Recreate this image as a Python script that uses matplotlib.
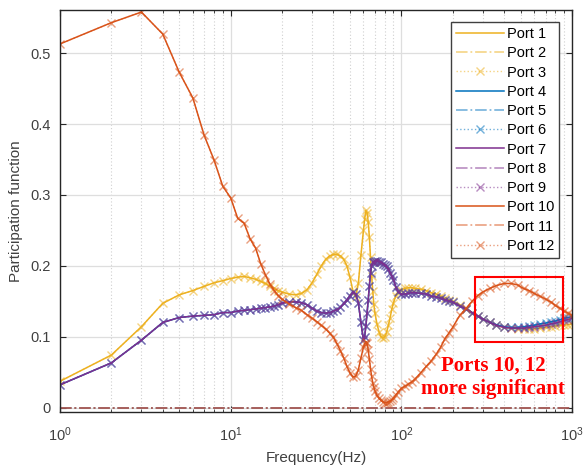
import matplotlib.pyplot as plt
from matplotlib.patches import Rectangle

# frequency points (Hz)
freq = [1, 2, 3, 4, 5, 6, 7, 8, 9, 10, 11, 12, 13, 14, 15, 16, 17, 18, 19, 20,
        22, 24, 26, 28, 30, 32, 34, 36, 38, 40, 42, 44, 46, 48, 50, 52, 54, 56, 58, 60,
        61, 62, 63, 64, 65, 66, 67, 68, 69, 70,
        72, 74, 76, 78, 80, 82, 84, 86, 88, 90,
        93, 96, 100, 105, 110, 115, 120,
        130, 140, 150, 160, 170, 180, 190, 200,
        220, 240, 260, 280, 300,
        330, 360, 400, 440, 480, 520, 560, 600,
        650, 700, 750, 800, 850, 900, 950, 1000]

# ports 1 and 3
pf_yellow = [0.037, 0.074, 0.114, 0.147, 0.159, 0.165, 0.171, 0.176, 0.179, 0.182,
             0.184, 0.185, 0.183, 0.181, 0.178, 0.175, 0.171, 0.168, 0.165, 0.163,
             0.160, 0.159, 0.161, 0.166, 0.176, 0.188, 0.200, 0.209, 0.214, 0.216,
             0.216, 0.214, 0.209, 0.200, 0.184, 0.165, 0.156, 0.175, 0.215, 0.250,
             0.266, 0.278, 0.275, 0.262, 0.240, 0.212, 0.186, 0.165, 0.146, 0.134,
             0.118, 0.107, 0.100, 0.098, 0.100, 0.106, 0.116, 0.127, 0.139, 0.148,
             0.158, 0.164, 0.166, 0.168, 0.169, 0.169, 0.168,
             0.167, 0.165, 0.162, 0.160, 0.157, 0.154, 0.152, 0.150,
             0.145, 0.139, 0.134, 0.129, 0.125,
             0.120, 0.116, 0.113, 0.112, 0.111, 0.111, 0.111, 0.111,
             0.112, 0.113, 0.114, 0.115, 0.116, 0.116, 0.117, 0.118]

# ports 4 and 6
pf_blue = [0.032, 0.063, 0.095, 0.120, 0.127, 0.129, 0.130, 0.131, 0.134, 0.134,
           0.136, 0.137, 0.138, 0.139, 0.140, 0.141, 0.142, 0.143, 0.145, 0.147,
           0.149, 0.149, 0.148, 0.145, 0.140, 0.136, 0.134, 0.133, 0.134, 0.136,
           0.138, 0.142, 0.147, 0.152, 0.158, 0.163, 0.160, 0.148, 0.120, 0.095,
           0.100, 0.115, 0.133, 0.152, 0.172, 0.190, 0.200, 0.205, 0.206, 0.207,
           0.207, 0.206, 0.205, 0.203, 0.201, 0.199, 0.195, 0.190, 0.185, 0.180,
           0.170, 0.163, 0.160, 0.160, 0.161, 0.162, 0.162,
           0.161, 0.160, 0.157, 0.156, 0.154, 0.152, 0.150, 0.149,
           0.143, 0.139, 0.134, 0.129, 0.125,
           0.120, 0.117, 0.114, 0.113, 0.113, 0.114, 0.115, 0.116,
           0.118, 0.119, 0.121, 0.122, 0.124, 0.126, 0.127, 0.128]

# ports 7 and 9
pf_purple = [0.032, 0.063, 0.095, 0.120, 0.127, 0.129, 0.130, 0.131, 0.134, 0.134,
             0.136, 0.137, 0.138, 0.139, 0.140, 0.141, 0.142, 0.143, 0.145, 0.147,
             0.149, 0.149, 0.148, 0.145, 0.140, 0.136, 0.134, 0.133, 0.134, 0.136,
             0.138, 0.142, 0.147, 0.152, 0.158, 0.163, 0.160, 0.148, 0.120, 0.095,
             0.100, 0.115, 0.133, 0.152, 0.172, 0.190, 0.200, 0.205, 0.206, 0.207,
             0.207, 0.206, 0.205, 0.203, 0.201, 0.199, 0.195, 0.190, 0.185, 0.180,
             0.170, 0.163, 0.160, 0.160, 0.161, 0.162, 0.162,
             0.161, 0.160, 0.157, 0.156, 0.154, 0.152, 0.150, 0.149,
             0.143, 0.139, 0.134, 0.129, 0.125,
             0.120, 0.116, 0.113, 0.112, 0.112, 0.112, 0.113, 0.114,
             0.115, 0.116, 0.118, 0.119, 0.121, 0.123, 0.124, 0.126]

# ports 10 and 12
pf_orange = [0.513, 0.543, 0.558, 0.527, 0.473, 0.437, 0.384, 0.349, 0.312, 0.296,
             0.267, 0.260, 0.238, 0.225, 0.203, 0.187, 0.174, 0.165, 0.158, 0.153,
             0.146, 0.141, 0.137, 0.131, 0.126, 0.121, 0.116, 0.111, 0.105, 0.099,
             0.090, 0.080, 0.070, 0.058, 0.049, 0.043, 0.044, 0.053, 0.070, 0.085,
             0.090, 0.093, 0.091, 0.081, 0.068, 0.055, 0.044, 0.035, 0.029, 0.024,
             0.017, 0.013, 0.010, 0.008, 0.007, 0.007, 0.008, 0.009, 0.011, 0.014,
             0.018, 0.022, 0.027, 0.030, 0.033, 0.036, 0.040,
             0.049, 0.058, 0.066, 0.075, 0.085, 0.097, 0.105, 0.113,
             0.130, 0.140, 0.150, 0.158, 0.163,
             0.168, 0.172, 0.175, 0.175, 0.173, 0.168, 0.165, 0.161,
             0.157, 0.153, 0.149, 0.144, 0.140, 0.136, 0.133, 0.130]

# ports 2, 5, 8, 11 stay at zero
pf_zero = [0.0] * len(freq)

colors = ['#EDB120', '#0072BD', '#7E2F8E', '#D95319']
groups = [pf_yellow, pf_blue, pf_purple, pf_orange]

plt.rcParams['font.family'] = ['Liberation Sans', 'DejaVu Sans']

fig = plt.figure(figsize=(5.84, 4.73), dpi=100)
ax = fig.add_axes([0.1027, 0.129, 0.8767, 0.85])

port = 1
for col, vals in zip(colors, groups):
    ax.plot(freq, vals, '-', color=col, lw=1.1, label=f'Port {port}')
    ax.plot(freq, pf_zero, '-.', color=col, lw=1.3, alpha=0.5, label=f'Port {port + 1}')
    ax.plot(freq, vals, ':', color=col, lw=1.0, marker='x', ms=6, mew=1.0,
            alpha=0.55, label=f'Port {port + 2}')
    port += 3

ax.set_xscale('log')
ax.set_xlim(1, 1000)
ax.set_ylim(-0.0063, 0.561)
ax.set_yticks([0, 0.1, 0.2, 0.3, 0.4, 0.5])
ax.set_yticklabels(['0', '0.1', '0.2', '0.3', '0.4', '0.5'])

ax.grid(True, which='major', color='#dedede', lw=0.9, ls='-')
ax.grid(True, which='minor', axis='x', color='#d0d0d0', lw=0.8, ls=(0, (1, 2)))
ax.set_axisbelow(True)

ax.tick_params(which='both', direction='in', top=True, right=True,
               colors='#262626', labelcolor='#404040', labelsize=10.5)
ax.tick_params(which='major', length=4)
ax.tick_params(which='minor', length=2.5)
ax.tick_params(axis='x', which='major', pad=10)
ax.tick_params(axis='y', which='major', pad=7)
for s in ax.spines.values():
    s.set_color('#262626')
    s.set_linewidth(1.0)

ax.set_xlabel('Frequency(Hz)', fontsize=11, color='#404040', labelpad=5)
ax.set_ylabel('Participation function', fontsize=11, color='#404040', labelpad=5)

leg = ax.legend(loc='upper right', bbox_to_anchor=(0.975, 0.970), borderaxespad=0,
                fontsize=10.5, handlelength=3.3, handletextpad=0.2, labelspacing=0.36,
                fancybox=False, framealpha=1, edgecolor='#404040', borderpad=0.35)
leg.get_frame().set_linewidth(1.0)

# highlight region for ports 10 and 12
ax.add_patch(Rectangle((272, 0.092), 886 - 272, 0.092, fill=False,
                       edgecolor='red', lw=1.5, zorder=5))
ax.text(0.846, 0.087, 'Ports 10, 12\nmore significant', transform=ax.transAxes,
        ha='center', va='center', color='red', fontsize=15, fontweight='bold',
        family='Liberation Serif', linespacing=1.25, zorder=6)

fig.savefig('out.png', dpi=100)
